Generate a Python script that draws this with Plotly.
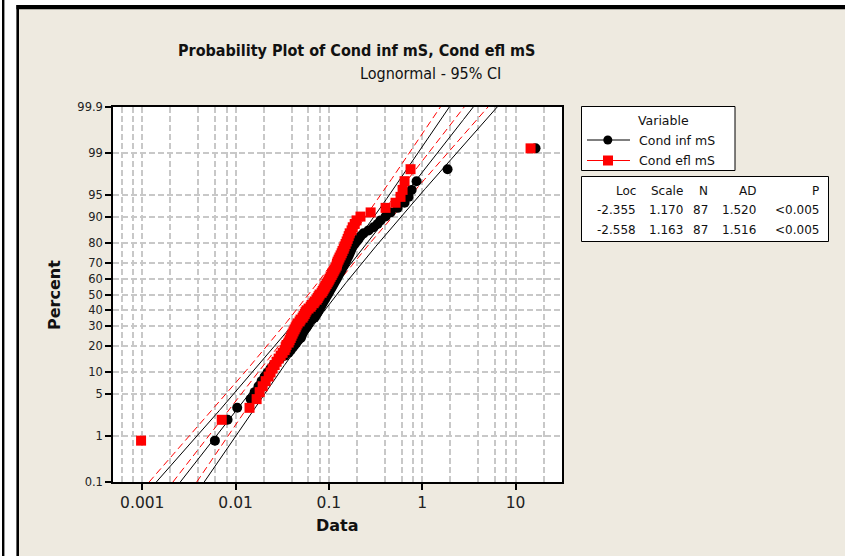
import numpy as np
import plotly.graph_objects as go
from statistics import NormalDist

# ---------------- data ----------------
cond_inf = [0.0060, 0.0082, 0.0104, 0.0145, 0.0160, 0.0176, 0.0190, 0.0205, 0.0220, 0.0237,
            0.0255, 0.0275, 0.0300, 0.0335, 0.0370, 0.0390, 0.0410, 0.0430, 0.0450, 0.0470,
            0.0500, 0.0510, 0.0520, 0.0535, 0.0550, 0.0576, 0.0590, 0.0605, 0.0620, 0.0650,
            0.0700, 0.0720, 0.0740, 0.0760, 0.0775, 0.0795, 0.0815, 0.0835, 0.0856, 0.0877,
            0.0900, 0.0920, 0.0945, 0.0970, 0.0995, 0.1017, 0.1043, 0.1070, 0.1096, 0.1123,
            0.1150, 0.1180, 0.1210, 0.1240, 0.1270, 0.1300, 0.1335, 0.1370, 0.1400, 0.1440,
            0.1470, 0.1510, 0.1550, 0.1590, 0.1630, 0.1670, 0.1710, 0.1750, 0.1800, 0.1890,
            0.1980, 0.2080, 0.2180, 0.2350, 0.2660, 0.3010, 0.3320, 0.3580, 0.4050, 0.4580,
            0.5450, 0.6470, 0.7140, 0.7700, 0.8700, 1.8700, 16.4]
cond_efl = [0.00097, 0.0071, 0.0141, 0.0168, 0.0181, 0.0195, 0.0210, 0.0226, 0.0237, 0.0249,
            0.0262, 0.0275, 0.0289, 0.0304, 0.0319, 0.0335, 0.0344, 0.0352, 0.0370, 0.0379,
            0.0389, 0.0398, 0.0408, 0.0418, 0.0429, 0.0440, 0.0450, 0.0462, 0.0485, 0.0497,
            0.0522, 0.0535, 0.0550, 0.0562, 0.0576, 0.0605, 0.0637, 0.0652, 0.0686, 0.0704,
            0.0738, 0.0757, 0.0775, 0.0795, 0.0835, 0.0856, 0.0877, 0.0900, 0.0920, 0.0945,
            0.0970, 0.0995, 0.1017, 0.1043, 0.1070, 0.1096, 0.1123, 0.1150, 0.1180, 0.1210,
            0.1220, 0.1240, 0.1270, 0.1300, 0.1335, 0.1370, 0.1400, 0.1440, 0.1470, 0.1510,
            0.1550, 0.1590, 0.1630, 0.1670, 0.1750, 0.1800, 0.1890, 0.1980, 0.2180, 0.2800,
            0.4050, 0.5180, 0.5860, 0.6160, 0.6470, 0.7500, 14.5]

series_names = ["Cond inf mS", "Cond efl mS"]
loc_vals = [-2.355, -2.558]
scale_vals = [1.170, 1.163]
n_vals = [87, 87]
stats_header = ["Loc", "Scale", "N", "AD", "P"]
stats_rows = [["-2.355", "1.170", "87", "1.520", "<0.005"],
              ["-2.558", "1.163", "87", "1.516", "<0.005"]]

pct_ticks = [0.1, 1, 5, 10, 20, 30, 40, 50, 60, 70, 80, 90, 95, 99, 99.9]
pct_labels = ["0.1", "1", "5", "10", "20", "30", "40", "50", "60", "70", "80", "90", "95", "99", "99.9"]
x_ticks = [0.001, 0.01, 0.1, 1, 10]
x_labels = ["0.001", "0.01", "0.1", "1", "10"]
x_minor = [0.0006, 0.0008,
           0.002, 0.004, 0.006, 0.008,
           0.02, 0.04, 0.06, 0.08,
           0.2, 0.4, 0.6, 0.8,
           2, 4, 6, 8, 20]

# ---------------- geometry ----------------
W, H = 845, 556
PL, PR, PT, PB = 113, 562, 107, 482
BEIGE = "#EEEAE0"
GRID = "#C8C8C8"
FONT = "DejaVu Sans"
NARROW = "DejaVu Sans Condensed, DejaVu Sans"


def fx(px):
    return (px - PL) / (PR - PL)


def fy(py):
    return (PB - py) / (PB - PT)


nd = NormalDist()
zmax = nd.inv_cdf(0.999)

fig = go.Figure()

colors = ["#000000", "#FF0000"]
dashes = ["solid", "7px,4px"]
symbols = ["circle", "square"]
sizes = [10, 10]

zz = np.linspace(-zmax, zmax, 300)
for k in range(2):
    mu, sg, n = loc_vals[k], scale_vals[k], n_vals[k]
    centre = mu + sg * zz
    se = sg * np.sqrt((1 + zz ** 2 / 2) / n)
    for arr in (centre, centre - 1.96 * se, centre + 1.96 * se):
        fig.add_trace(go.Scatter(x=np.exp(arr), y=zz, mode="lines",
                                 line=dict(color=colors[k], width=1, dash=dashes[k]),
                                 hoverinfo="skip", showlegend=False))

for k, data in enumerate([cond_inf, cond_efl]):
    vals = np.sort(np.array(data))
    n = len(vals)
    pp = [(i + 1 - 0.3) / (n + 0.4) for i in range(n)]
    z = [nd.inv_cdf(p) for p in pp]
    fig.add_trace(go.Scatter(x=vals, y=z, mode="markers", name=series_names[k],
                             marker=dict(color=colors[k], symbol=symbols[k], size=sizes[k],
                                         line=dict(width=0)),
                             showlegend=False))

shapes = []
# outer frame & background
shapes.append(dict(type="rect", xref="paper", yref="paper", x0=fx(19), x1=fx(846), y0=fy(9), y1=fy(557),
                   fillcolor=BEIGE, line=dict(width=0), layer="below"))
shapes.append(dict(type="rect", xref="paper", yref="paper", x0=fx(2), x1=fx(4.4), y0=fy(-1), y1=fy(557),
                   fillcolor="black", line=dict(width=0), layer="below"))
shapes.append(dict(type="rect", xref="paper", yref="paper", x0=fx(16.4), x1=fx(19), y0=fy(5), y1=fy(557),
                   fillcolor="black", line=dict(width=0), layer="below"))
shapes.append(dict(type="rect", xref="paper", yref="paper", x0=fx(16.4), x1=fx(846), y0=fy(5), y1=fy(9.3),
                   fillcolor="black", line=dict(width=0), layer="below"))
shapes.append(dict(type="rect", xref="paper", yref="paper", x0=0, x1=1, y0=0, y1=1,
                   fillcolor="white", line=dict(width=0), layer="below"))
# legend box
shapes.append(dict(type="rect", xref="paper", yref="paper", x0=fx(581.5), x1=fx(735), y0=fy(170.5), y1=fy(106.5),
                   fillcolor="white", line=dict(color="black", width=1)))
shapes.append(dict(type="line", xref="paper", yref="paper", x0=fx(587), x1=fx(630), y0=fy(140), y1=fy(140),
                   line=dict(color="black", width=1)))
shapes.append(dict(type="circle", xref="paper", yref="paper", x0=fx(603.3), x1=fx(612.3), y0=fy(144.5), y1=fy(135.5),
                   fillcolor="black", line=dict(width=0)))
shapes.append(dict(type="line", xref="paper", yref="paper", x0=fx(587), x1=fx(630), y0=fy(160.5), y1=fy(160.5),
                   line=dict(color="#FF0000", width=1)))
shapes.append(dict(type="rect", xref="paper", yref="paper", x0=fx(603), x1=fx(613), y0=fy(165.5), y1=fy(155.5),
                   fillcolor="#FF0000", line=dict(width=0)))
# stats table box
shapes.append(dict(type="rect", xref="paper", yref="paper", x0=fx(581.5), x1=fx(828.5), y0=fy(241.5), y1=fy(176.5),
                   fillcolor="white", line=dict(color="black", width=1)))

ann = []
txt = dict(color="#111111")
ann.append(dict(text="<b>Probability Plot of Cond inf mS, Cond efl mS</b>", x=fx(356), y=fy(50),
                xref="paper", yref="paper", showarrow=False, xanchor="center", yanchor="middle",
                font=dict(size=16, family=NARROW, **txt)))
ann.append(dict(text="Lognormal - 95% CI", x=fx(430), y=fy(73),
                xref="paper", yref="paper", showarrow=False, xanchor="center", yanchor="middle",
                font=dict(size=16, family=NARROW, **txt)))
ann.append(dict(text="<b>Percent</b>", x=fx(54), y=fy(295), textangle=-90,
                xref="paper", yref="paper", showarrow=False, xanchor="center", yanchor="middle",
                font=dict(size=16, family=FONT, **txt)))
ann.append(dict(text="<b>Data</b>", x=fx(337), y=fy(525),
                xref="paper", yref="paper", showarrow=False, xanchor="center", yanchor="middle",
                font=dict(size=16, family=FONT, **txt)))
ann.append(dict(text="Variable", x=fx(663), y=fy(120.5),
                xref="paper", yref="paper", showarrow=False, xanchor="center", yanchor="middle",
                font=dict(size=12.5, family=FONT, **txt)))
for k, yy in enumerate([140, 160.5]):
    ann.append(dict(text=series_names[k], x=fx(637), y=fy(yy),
                    xref="paper", yref="paper", showarrow=False, xanchor="left", yanchor="middle",
                    font=dict(size=12.5, family=FONT, **txt)))
col_right = [638, 685, 710, 758, 821]
for row_text, yy in zip([stats_header] + stats_rows, [190.5, 210, 229.5]):
    for t, xr in zip(row_text, col_right):
        ann.append(dict(text=t, x=fx(xr), y=fy(yy),
                        xref="paper", yref="paper", showarrow=False, xanchor="right", yanchor="middle",
                        font=dict(size=12, family=FONT, **txt)))

x_left = -3 - (142.3 - PL) / 93.3
x_right = x_left + (PR - PL) / 93.3

fig.update_layout(
    width=W, height=H,
    margin=dict(l=PL, r=W - PR, t=PT, b=H - PB, pad=0),
    paper_bgcolor="white", plot_bgcolor="white",
    showlegend=False,
    shapes=shapes, annotations=ann,
    font=dict(family=FONT, size=13, color="#222222"),
    xaxis=dict(type="log", range=[x_left, x_right], tickmode="array", tickvals=x_ticks, ticktext=x_labels,
               ticks="outside", ticklen=6, tickwidth=1.5, tickcolor="black",
               showline=True, linecolor="black", linewidth=1.5, mirror=True,
               showgrid=True, gridcolor=GRID, gridwidth=1.5, griddash="6px,3px",
               minor=dict(tickmode="array", tickvals=x_minor, ticks="", showgrid=True,
                          gridcolor=GRID, gridwidth=1.5, griddash="6px,3px"),
               zeroline=False, tickfont=dict(size=15.5, family=FONT, color="#222222")),
    yaxis=dict(range=[-zmax, zmax], tickmode="array",
               tickvals=[nd.inv_cdf(p / 100) for p in pct_ticks], ticktext=pct_labels,
               ticks="outside", ticklen=6, tickwidth=1.5, tickcolor="black",
               showline=True, linecolor="black", linewidth=1.5, mirror=True,
               showgrid=True, gridcolor=GRID, gridwidth=1.5, griddash="6px,3px",
               zeroline=False, tickfont=dict(size=11.5, family=FONT, color="#222222")),
)

fig.write_html("out.html", config={"displayModeBar": False},
               post_script="document.body.style.margin='0px';")
